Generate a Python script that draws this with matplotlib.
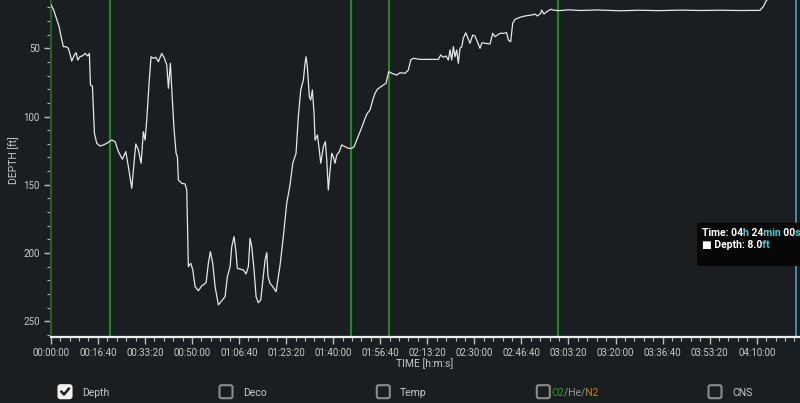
import numpy as np
import matplotlib
matplotlib.use('Agg')
import matplotlib.pyplot as plt
from matplotlib.ticker import FuncFormatter, MultipleLocator
from matplotlib.patches import FancyBboxPatch
from matplotlib.lines import Line2D
from matplotlib.transforms import IdentityTransform, Bbox

plt.rcParams['font.family'] = ['Roboto', 'DejaVu Sans']

# Dive profile (time in seconds, depth in feet)
time_s = [0, 55, 128, 176, 219, 267, 319, 374, 446, 501, 538, 573, 623, 671, 729, 786,
          820, 842, 884, 927, 977, 1047, 1118, 1190, 1238, 1296, 1366, 1436, 1521, 1593,
          1648, 1721, 1755, 1806, 1861, 1919, 1967, 2004, 2039, 2088, 2130, 2180, 2230,
          2286, 2358, 2414, 2464, 2499, 2541, 2583, 2620, 2662, 2690, 2711, 2783, 2853,
          2889, 2923, 2974, 3017, 3066, 3135, 3208, 3300, 3348, 3391, 3441, 3491, 3561,
          3633, 3703, 3752, 3810, 3845, 3894, 3930, 3964, 4036, 4092, 4149, 4198, 4234,
          4270, 4319, 4362, 4410, 4461, 4516, 4553, 4589, 4616, 4659, 4716, 4787, 4835,
          4872, 4941, 5013, 5084, 5141, 5211, 5260, 5311, 5367, 5402, 5424, 5451, 5494,
          5523, 5558, 5594, 5615, 5664, 5706, 5736, 5792, 5834, 5864, 5897, 5934, 5970,
          6003, 6040, 6076, 6131, 6183, 6252, 6322, 6394, 6444, 6500, 6571, 6628, 6678,
          6726, 6783, 6841, 6889, 6938, 6995, 7066, 7123, 7180, 7245, 7351, 7421, 7527,
          7597, 7648, 7703, 7846, 8059, 8235, 8285, 8341, 8398, 8447, 8483, 8519, 8554,
          8589, 8625, 8660, 8695, 8732, 8765, 8817, 8851, 8908, 8965, 9014, 9063, 9121,
          9162, 9227, 9333, 9390, 9439, 9488, 9546, 9615, 9687, 9722, 9772, 9815, 9864,
          9970, 10076, 10219, 10289, 10338, 10410, 10431, 10480, 10538, 10623, 10677,
          10800, 11000, 11245, 11600, 12095, 12500, 12944, 13400, 13794, 14200, 14643,
          15069, 15139, 15211, 15500, 15840, 15900]
depth_ft = [18, 21.4, 29, 34, 41.5, 48.8, 48.8, 50, 59.3, 54.9, 53.2, 58.6, 56, 55.6, 53.7, 55.6,
            53.7, 76.9, 77.6, 112.3, 119.6, 121.6, 120.8, 119.6, 118.4, 117.2, 118.4, 125.7, 131.3, 125.7,
            136.7, 152.6, 139.2, 120.1, 124.5, 134.2, 111.1, 117.2, 102.5, 75.6, 56.2, 57.3, 56.6,
            59.8, 53.7, 57.3, 62.2, 79.3, 61, 87.9, 109.9, 126.9, 129.4, 146.5, 148.9, 149.4,
            153.8, 210, 207.5, 212.4, 224.6, 227.6, 224.1, 221.7, 207.5, 199, 207.5, 224.6, 238,
            234.9, 232, 217.3, 210, 195.3, 188, 197.8, 211.2, 211.9, 212.4, 215.3, 210, 189.2,
            195.3, 212.4, 232, 236.4, 234.4, 217.3, 205.1, 199.7, 217.3, 222.2, 224.6, 228.3, 217.3,
            208.8, 188, 163.6, 150, 134.2, 126.9, 100.1, 80.5, 73.2, 61, 56.2, 63.5, 85.5,
            87.9, 80.5, 97.6, 117.2, 113.5, 124.5, 134.2, 122.1, 118.4, 131.8, 153.8, 139.2, 126.9,
            129.4, 134.2, 128.2, 125.7, 120.8, 122.1, 123.3, 123.3, 122.1, 117.2, 111.1, 106.2, 101.3,
            97.6, 95.2, 87.9, 83, 80, 78.6, 76.9, 75.6, 67.1, 68.3, 69.6, 67.9, 68.3,
            65.9, 58.6, 57.3, 58.1, 58.1, 58.1, 54.9, 56.6, 55.6, 58.6, 51.2, 58.6, 48.8,
            56.2, 51.2, 61, 50, 48.8, 42.7, 38.6, 41.5, 46.3, 40.3, 41, 45.2, 50,
            45.9, 46.3, 46.8, 39, 41.5, 40.3, 39, 39, 38.6, 43.9, 45.2, 31.7, 28.8,
            27.3, 26.3, 25.6, 24.9, 26.3, 24.4, 22, 24.9, 23.2, 21.4, 22,
            22.4, 21.8, 22.3, 21.9, 22.5, 22.1, 22.4, 22.0, 22.3, 22.1, 22.3,
            22.2, 19.5, 14.6, 10, 8, 5]

gas_switch_s = [1260, 6380, 7187, 10777]
cursor_s = 15840
legend_labels = ['Depth', 'Deco', 'Temp', 'CNS']
gas_parts = ['O2', '/He/', 'N2']
gas_colors = ['#2f9a2f', '#9a9a9a', '#b8860b']

BG = '#1b1e20'
TXT = '#c9c9c9'
CYAN = '#3fd0d0'
W, H = 800, 403

fig = plt.figure(figsize=(W / 100, H / 100), dpi=100, facecolor=BG)
ax = fig.add_axes([50.8 / W, 1 - 336.7 / H, 1 - 50.8 / W, 336.7 / H])
ax.set_facecolor(BG)

for t in gas_switch_s:
    ax.axvline(t, color='#1d8a1d', lw=1.5, zorder=1)
ax.axvline(cursor_s, color='#4a9cc4', lw=1.2, zorder=1)
ax.plot(time_s, depth_ft, color='#e6e6e6', lw=0.9, zorder=3)

ax.set_xlim(0, 15920)
ax.set_ylim(261.3, 14.6)

ax.xaxis.set_major_locator(MultipleLocator(1000))
ax.xaxis.set_minor_locator(MultipleLocator(200))
ax.yaxis.set_major_locator(MultipleLocator(50))
ax.yaxis.set_minor_locator(MultipleLocator(10))


def hms(v, _pos):
    v = int(round(v))
    return f'{v // 3600:02d}:{(v % 3600) // 60:02d}:{v % 60:02d}'


ax.xaxis.set_major_formatter(FuncFormatter(hms))
ax.tick_params(axis='both', which='both', colors='#bdbdbd', labelcolor=TXT,
               labelsize=7, direction='out')
ax.tick_params(axis='both', which='major', length=5, width=1, pad=3)
ax.tick_params(axis='both', which='minor', length=3, width=0.8)

for side in ['top', 'right']:
    ax.spines[side].set_visible(False)
ax.spines['bottom'].set_color('#f0f0f0')
ax.spines['bottom'].set_linewidth(1.6)
ax.spines['left'].set_color('#245f24')
ax.spines['left'].set_linewidth(1.5)

ax.set_xlabel('TIME [h:m:s]', color=TXT, fontsize=7.5)
ax.xaxis.set_label_coords((425 - 50.8) / (W - 50.8), -22 / 336.7)
ax.set_ylabel('DEPTH [ft]', color=TXT, fontsize=7.5)
ax.yaxis.set_label_coords(-(50.8 - 19) / (W - 50.8), 1 - 160 / 336.7)

renderer = fig.canvas.get_renderer()


def text_pieces(x0, y, pieces, colors, **props):
    """Draw the whole string once per colour, each copy clipped to the
    horizontal span of its piece, so glyph spacing stays natural."""
    full = ''.join(pieces)
    bounds = [-1e4]
    acc = ''
    for p in pieces[:-1]:
        acc += p
        probe = fig.text(0, 0, acc, **props)
        bounds.append(x0 + probe.get_window_extent(renderer).width + 0.6)
        probe.remove()
    bounds.append(1e4)
    for i, col in enumerate(colors):
        t = fig.text(x0 / W, y / H, full, color=col, ha='left', **props)
        t.set_clip_box(Bbox.from_extents(bounds[i], 0, bounds[i + 1], H))
        t.set_clip_on(True)


# legend check boxes (display pixels, origin bottom-left)
box_x = [65, 226, 383.3, 543.3, 715]
label_x = [82, 242.7, 400, 732.3]
cy = H - 391.7
ident = IdentityTransform()
for i, bx in enumerate(box_x):
    checked = (i == 0)
    fig.patches.append(FancyBboxPatch((bx - 6.5, cy - 6.5), 13, 13,
                                      boxstyle='round,pad=0,rounding_size=2',
                                      transform=ident, figure=fig,
                                      facecolor='#f2f2f2' if checked else 'none',
                                      edgecolor='#f2f2f2' if checked else '#8c8c8c',
                                      lw=1.5))
    if checked:
        fig.lines.append(Line2D([bx - 3.5, bx - 1, bx + 3.8], [cy, cy - 2.8, cy + 3],
                                transform=ident, figure=fig, color='#1b1e20', lw=1.8))

for lx, lab in zip(label_x, legend_labels):
    fig.text(lx / W, cy / H, lab, color=TXT, fontsize=7.5, va='center_baseline', ha='left')

text_pieces(551.5, cy, gas_parts, gas_colors, fontsize=7.5, va='center_baseline')

# cursor tooltip
fig.patches.append(FancyBboxPatch((697, H - 266), 130, 43.3,
                                  boxstyle='round,pad=0,rounding_size=3',
                                  transform=ident, figure=fig,
                                  facecolor='#070707', edgecolor='#070707', lw=0))
tip_props = dict(fontsize=7.5, fontweight='bold', va='baseline')
text_pieces(702, H - 236.5, ['Time: 04', 'h', ' 24', 'min', ' 00', 's'],
            ['white', CYAN, 'white', CYAN, 'white', CYAN], **tip_props)
text_pieces(702, H - 247.5, ['■ Depth: 8.0', 'ft'], ['white', CYAN], **tip_props)

fig.savefig('out.png', dpi=100, facecolor=BG)
